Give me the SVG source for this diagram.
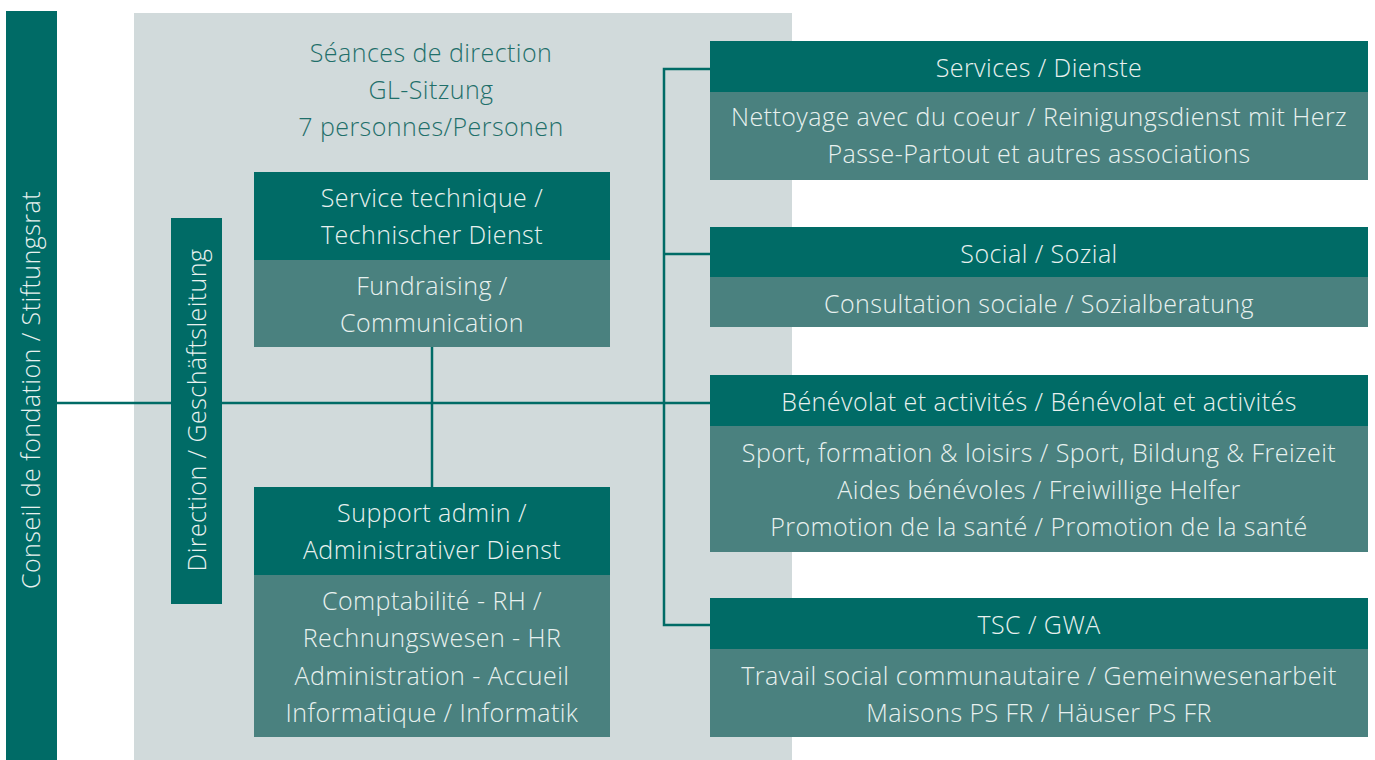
<svg xmlns="http://www.w3.org/2000/svg" width="1375" height="760" viewBox="0 0 1375 760">
<style>
.dk{fill:#006B66}
.lt{fill:#4A817F}
.t{font-family:"Open Sans","Liberation Sans",sans-serif;font-weight:300;font-size:25px;letter-spacing:0.45px;fill:#E8F1EF;text-anchor:middle}
.tg{font-family:"Open Sans","Liberation Sans",sans-serif;font-weight:300;font-size:25px;letter-spacing:0.45px;fill:#1F6F6A;text-anchor:middle}
.ln{stroke:#006B66;stroke-width:2.5;fill:none}
</style>
<rect x="0" y="0" width="1375" height="760" fill="#FFFFFF"/>
<rect id="panel" x="134" y="13" width="658" height="747" fill="#D1DADB"/>
<g id="connectors">
<line class="ln" x1="57" y1="403" x2="710" y2="403"/>
<polyline class="ln" points="710,69 664,69 664,625 710,625"/>
<line class="ln" x1="664" y1="254" x2="710" y2="254"/>
<line class="ln" x1="432" y1="347" x2="432" y2="487"/>
</g>
<g id="conseil">
<rect class="dk" x="6" y="11" width="51" height="749"/>
<text class="t" transform="translate(40,390) rotate(-90)">Conseil de fondation / Stiftungsrat</text>
</g>
<g id="seances">
<text class="tg" x="431" y="62">Séances de direction</text>
<text class="tg" x="431" y="99">GL-Sitzung</text>
<text class="tg" x="431" y="136">7 personnes/Personen</text>
</g>
<g id="direction">
<rect class="dk" x="171" y="218" width="51" height="386"/>
<text class="t" transform="translate(206,410) rotate(-90)">Direction / Geschäftsleitung</text>
</g>
<g id="technique">
<rect class="dk" x="254" y="172" width="356" height="88"/>
<rect class="lt" x="254" y="260" width="356" height="87"/>
<text class="t" x="432" y="207">Service technique /</text>
<text class="t" x="432" y="244">Technischer Dienst</text>
<text class="t" x="432" y="295">Fundraising /</text>
<text class="t" x="432" y="332">Communication</text>
</g>
<g id="admin">
<rect class="dk" x="254" y="487" width="356" height="88"/>
<rect class="lt" x="254" y="575" width="356" height="162"/>
<text class="t" x="432" y="522">Support admin /</text>
<text class="t" x="432" y="559">Administrativer Dienst</text>
<text class="t" x="432" y="610">Comptabilité - RH /</text>
<text class="t" x="432" y="647">Rechnungswesen - HR</text>
<text class="t" x="432" y="685">Administration - Accueil</text>
<text class="t" x="432" y="722">Informatique / Informatik</text>
</g>
<g id="services">
<rect class="dk" x="710" y="41" width="658" height="51"/>
<rect class="lt" x="710" y="92" width="658" height="88"/>
<text class="t" x="1039" y="77">Services / Dienste</text>
<text class="t" x="1039" y="126">Nettoyage avec du coeur / Reinigungsdienst mit Herz</text>
<text class="t" x="1039" y="163">Passe-Partout et autres associations</text>
</g>
<g id="social">
<rect class="dk" x="710" y="227" width="658" height="50"/>
<rect class="lt" x="710" y="277" width="658" height="50"/>
<text class="t" x="1039" y="263">Social / Sozial</text>
<text class="t" x="1039" y="313">Consultation sociale / Sozialberatung</text>
</g>
<g id="benevolat">
<rect class="dk" x="710" y="375" width="658" height="51"/>
<rect class="lt" x="710" y="426" width="658" height="126"/>
<text class="t" x="1039" y="411">Bénévolat et activités / Bénévolat et activités</text>
<text class="t" x="1039" y="462">Sport, formation &amp; loisirs / Sport, Bildung &amp; Freizeit</text>
<text class="t" x="1039" y="499">Aides bénévoles / Freiwillige Helfer</text>
<text class="t" x="1039" y="536">Promotion de la santé / Promotion de la santé</text>
</g>
<g id="tsc">
<rect class="dk" x="710" y="598" width="658" height="51"/>
<rect class="lt" x="710" y="649" width="658" height="88"/>
<text class="t" x="1039" y="634">TSC / GWA</text>
<text class="t" x="1039" y="685">Travail social communautaire / Gemeinwesenarbeit</text>
<text class="t" x="1039" y="722">Maisons PS FR / Häuser PS FR</text>
</g>
</svg>
